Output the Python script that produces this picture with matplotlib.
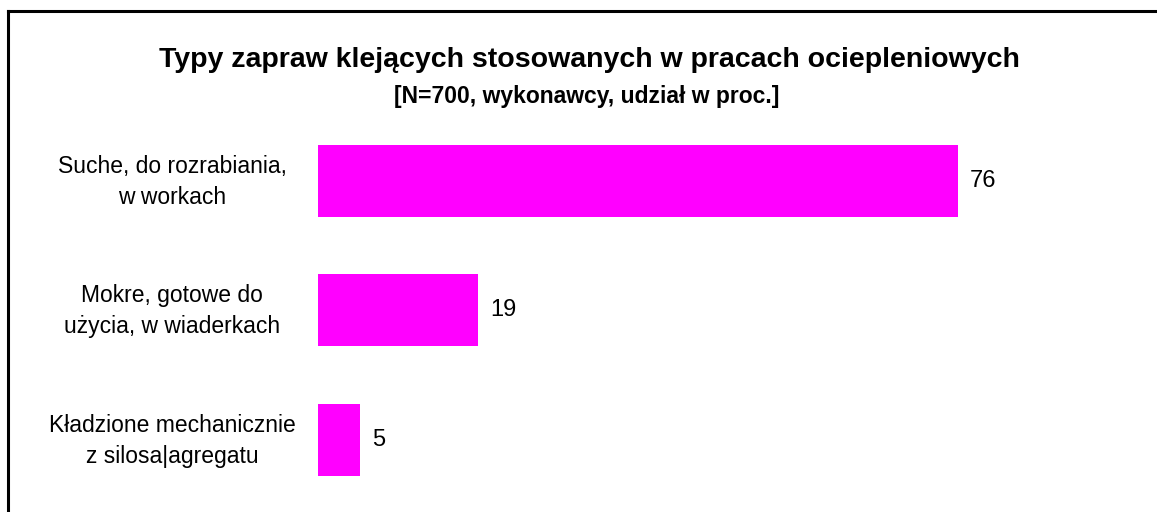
import matplotlib
matplotlib.use("Agg")
import matplotlib.pyplot as plt
from matplotlib.lines import Line2D

plt.rcParams['font.family'] = ['Liberation Sans', 'DejaVu Sans']

# dane
categories = ["Suche, do rozrabiania,\nw workach",
              "Mokre, gotowe do\nużycia, w wiaderkach",
              "Kładzione mechanicznie\nz silosa|agregatu"]
values = [76, 19, 5]
title = "Typy zapraw klejących stosowanych w pracach ociepleniowych"
subtitle = "[N=700, wykonawcy, udział w proc.]"

W, H = 1157, 512
fig = plt.figure(figsize=(W / 100, H / 100), dpi=100)

# ramka: tylko lewa i gorna krawedz widoczna
fx, fy = 8 / W, 1 - 11 / H
fig.add_artist(Line2D([fx, fx], [0, fy], transform=fig.transFigure, color='black', lw=2.2))
fig.add_artist(Line2D([fx, 1], [fy, fy], transform=fig.transFigure, color='black', lw=2.2))

ax = fig.add_axes([318 / W, 1 - 504.6 / H, 800 / W, 388.5 / H])
y = list(range(len(values)))
ax.barh(y, values, height=0.556, color='#FF00FF')
ax.set_xlim(0, 95)
ax.set_ylim(2.5, -0.5)
ax.axis('off')

for yi, v in zip(y, values):
    ax.text(v + 1.4, yi, str(v), va='center', ha='left', fontsize=17)

for yi, c in zip(y, categories):
    py = ax.transData.transform((0, yi))[1] / H
    fig.text(172 / W, py - 1 / H, c, ha='center', va='center', fontsize=16.5, linespacing=1.45)

fig.text(589 / W, 1 - 60 / H, title, ha='center', va='center', fontsize=20.5, fontweight='bold')
fig.text(587 / W, 1 - 96 / H, subtitle, ha='center', va='center', fontsize=16.5, fontweight='bold')

fig.savefig("out.png", dpi=100)
